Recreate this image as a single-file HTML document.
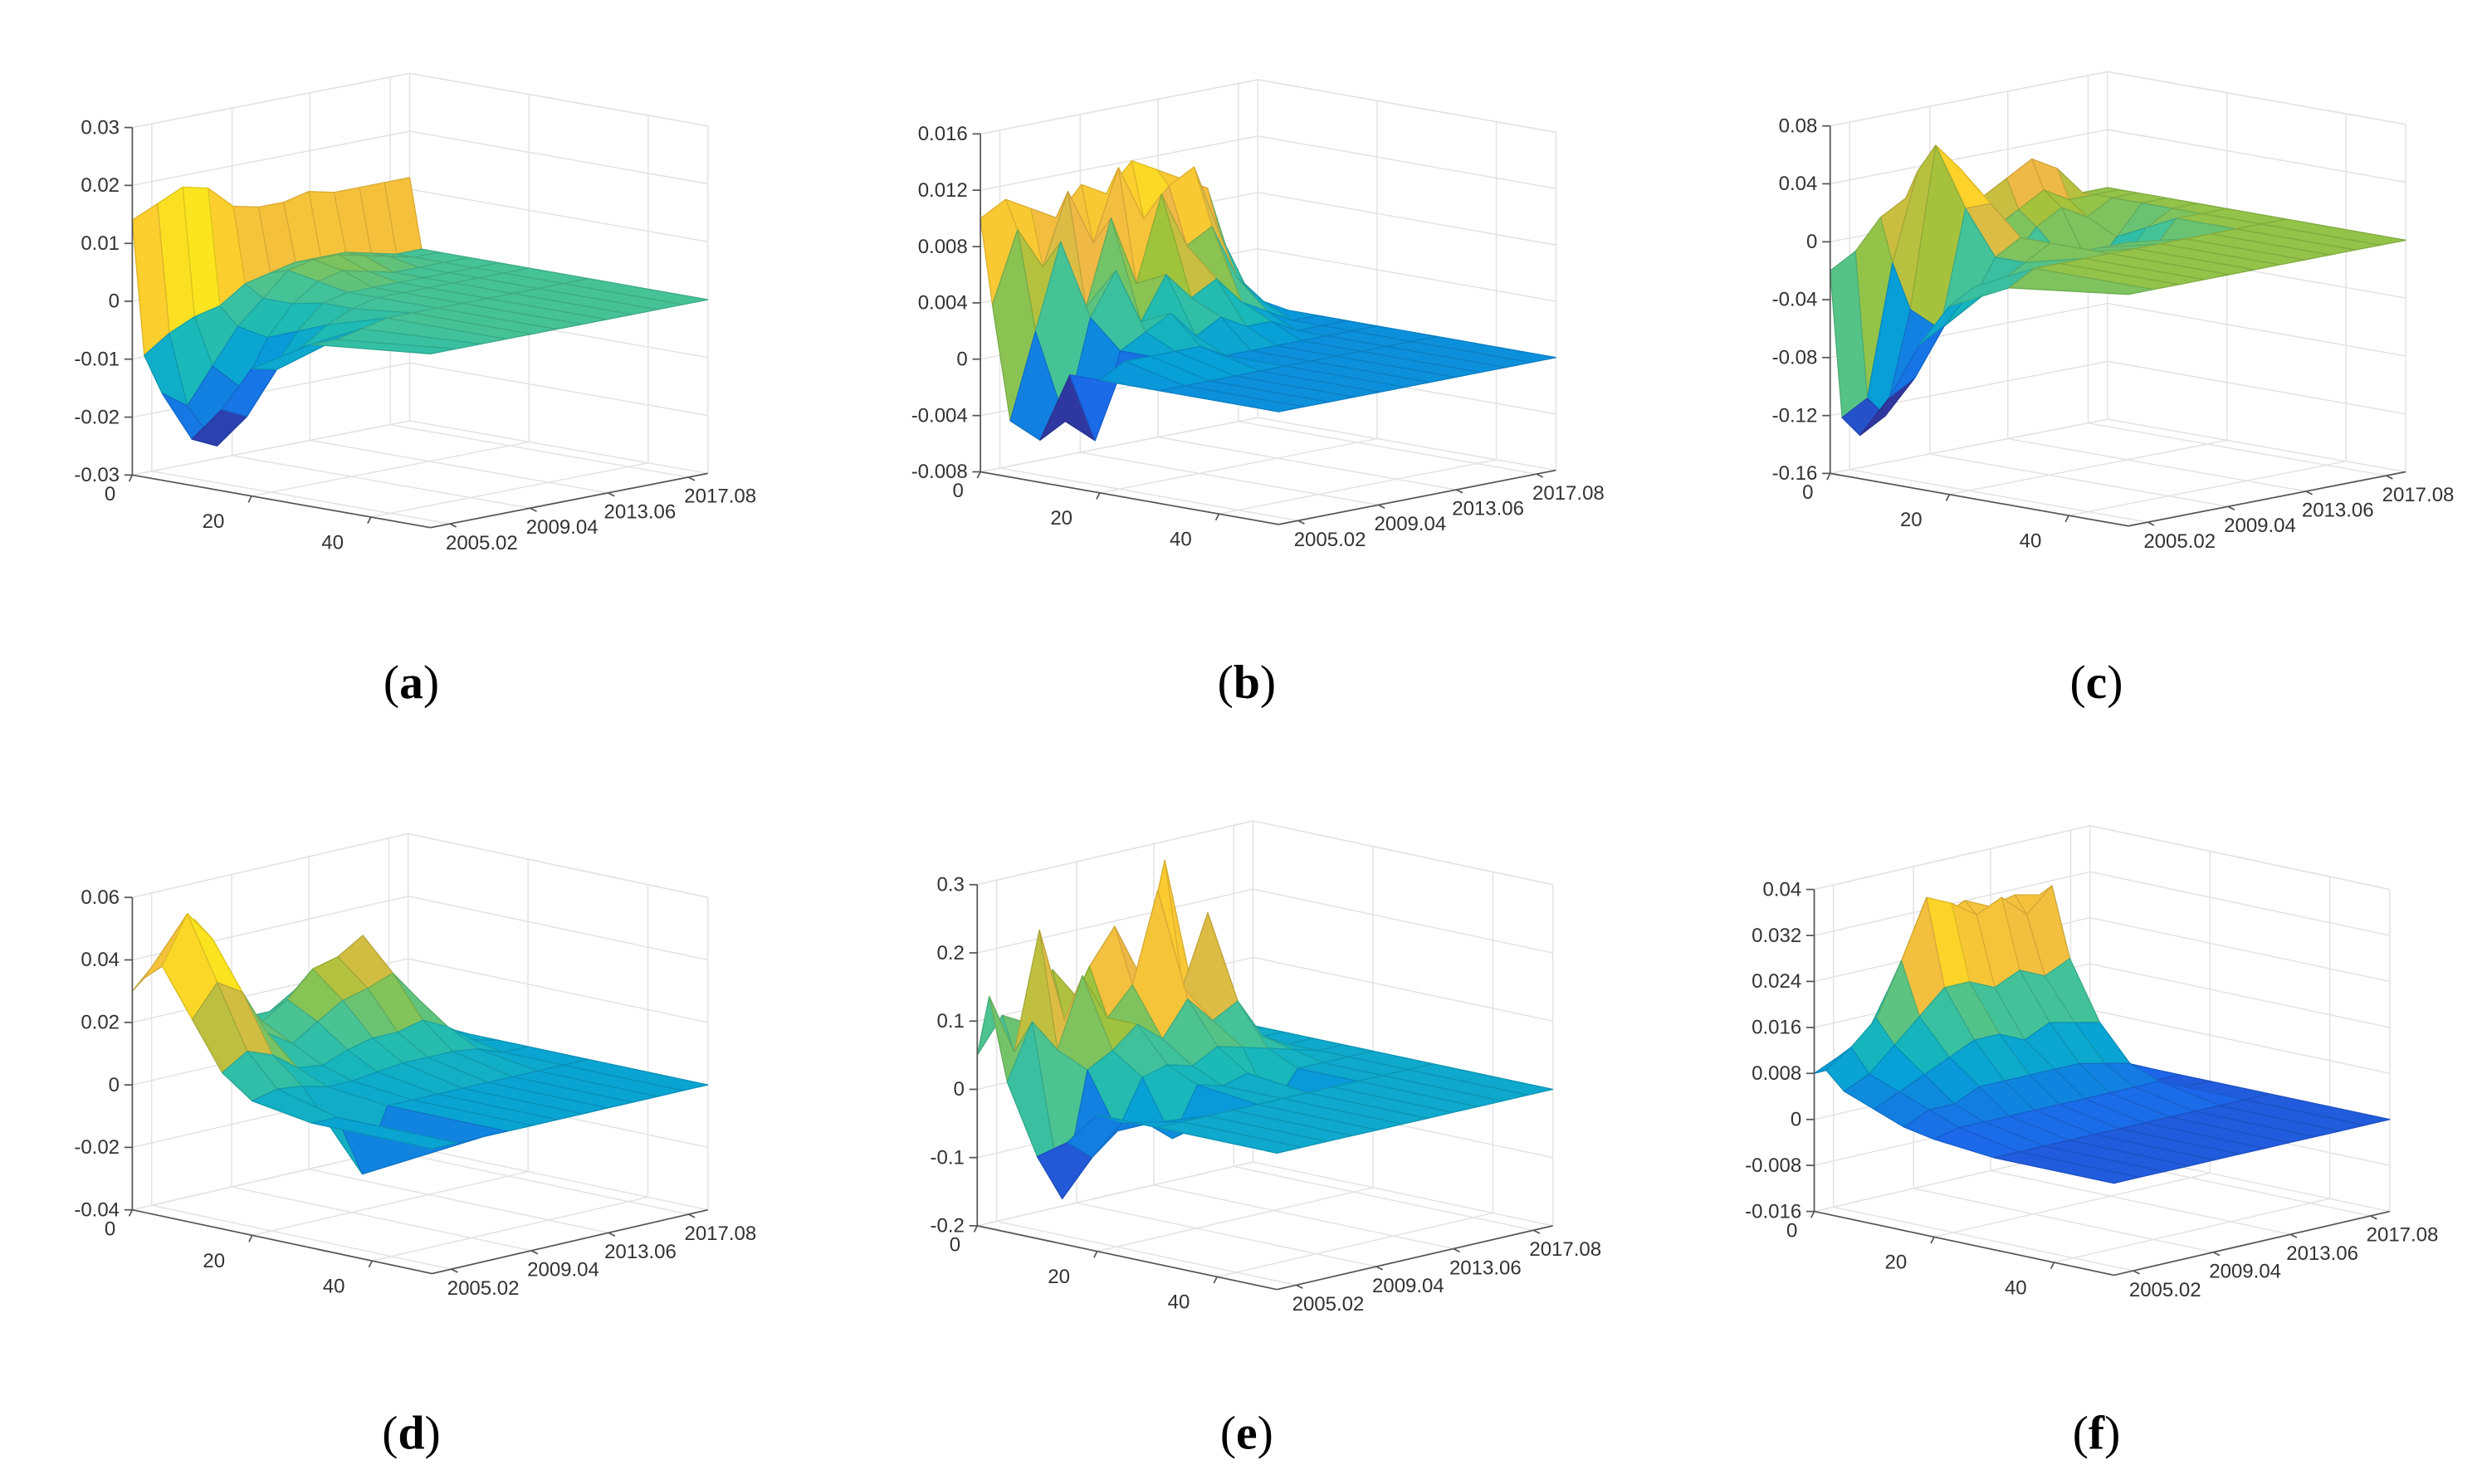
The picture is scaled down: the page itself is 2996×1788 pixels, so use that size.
<!DOCTYPE html>
<html><head><meta charset="utf-8"><style>
html,body{margin:0;padding:0;background:#fff;}
svg{display:block;}
text{font-family:"Liberation Sans",sans-serif;}
</style></head><body>
<svg id="fig" width="2996" height="1788" viewBox="0 0 1560 931" xmlns="http://www.w3.org/2000/svg"></svg>
<script>
// ---- data (lags x date columns) ----
const lags = [0, 2, 5, 10, 15, 20, 30, 50];
const dateLabels = ["2005.02", "2009.04", "2013.06", "2017.08"];
const lagTickLabels = ["0", "20", "40"];
const zA = [
 [0.014,0.016,0.018,0.017,0.013,0.012,0.012,0.013,0.012,0.012,0.012,0.012],
 [-0.009,-0.006,-0.004,-0.003,0.0,0.001,0.002,0.002,0.002,0.001,0,0],
 [-0.015,-0.018,-0.012,-0.006,-0.002,0.002,0.003,0.003,0.002,0.001,0,0],
 [-0.022,-0.024,-0.015,-0.007,-0.002,0.001,0.002,0.001,0,0,0,0],
 [-0.016,-0.018,-0.011,-0.005,-0.001,0,0,0,0,0,0,0],
 [-0.008,-0.009,-0.006,-0.003,-0.001,0,0,0,0,0,0,0],
 [-0.002,-0.002,-0.001,0,0,0,0,0,0,0,0,0],
 [0,0,0,0,0,0,0,0,0,0,0,0]];
const zB = [
 [0.010,0.011,0.010,0.009,0.011,0.010,0.012,0.011,0.010,0.009,0.003,0],
 [0.004,0.009,0.006,0.011,0.007,0.012,0.008,0.010,0.011,0.006,0.002,0],
 [-0.004,0.002,0.008,0.003,0.009,0.004,0.010,0.006,0.007,0.003,0.001,0],
 [-0.005,-0.004,0.003,0.006,0.002,0.005,0.003,0.004,0.002,0.001,0,0],
 [0,-0.005,0.001,0.002,0.003,0.001,0.002,0.001,0.001,0,0,0],
 [0,0.001,0.001,0.001,0.001,0,0,0,0,0,0,0],
 [0,0,0,0,0,0,0,0,0,0,0,0],
 [0,0,0,0,0,0,0,0,0,0,0,0]];
const zC = [
 [-0.02,-0.01,0.01,0.02,0.01,0.01,0.01,0.02,0.03,0.02,0,0],
 [-0.12,-0.11,-0.02,0.04,0.03,0.0,-0.01,0,0.01,0,0,0],
 [-0.13,-0.12,-0.05,0.06,0.04,-0.02,-0.03,-0.01,0,-0.01,0,0],
 [-0.10,-0.09,-0.06,0.02,0.02,-0.04,-0.02,-0.03,-0.04,-0.02,0,0],
 [-0.06,-0.05,-0.04,-0.01,0,-0.03,-0.02,-0.02,-0.03,-0.01,0,0],
 [-0.03,-0.02,-0.02,-0.01,0,-0.01,-0.01,-0.01,-0.02,0,0,0],
 [-0.01,0,0,0,0,0,0,0,0,0,0,0],
 [0,0,0,0,0,0,0,0,0,0,0,0]];
const zD = [
 [0.030,0.038,0.040,0.030,0.015,0.010,0.012,0.014,0.012,0.010,0.003,0],
 [0.035,0.045,0.050,0.030,0.015,0.015,0.020,0.022,0.025,0.015,0.004,0],
 [0.040,0.055,0.045,0.025,0.015,0.020,0.028,0.030,0.035,0.020,0.005,0],
 [0.025,0.035,0.030,0.015,0.010,0.015,0.020,0.022,0.025,0.015,0.004,0],
 [0.010,0.015,0.012,0.006,0.005,0.008,0.010,0.010,0.012,0.008,0.002,0],
 [0.003,0.005,0.004,0.002,0.002,0.003,0.004,0.004,0.004,0.003,0,0],
 [0,0,-0.02,0,0,0,0,0,0,0,0,0],
 [0,0,0,0,0,0,0,0,0,0,0,0]];
const zE = [
 [0.05,0.10,0.08,0.15,0.10,0.12,0.10,0.15,0.12,0.08,0.02,0],
 [0.14,0.05,0.22,0.08,0.15,0.20,0.12,0.28,0.10,0.05,0.01,0],
 [0.02,0.10,0.05,0.15,0.08,0.12,0.25,0.10,0.20,0.04,0,0],
 [-0.08,-0.15,0.03,0.05,0.08,0.05,0.10,0.06,0.08,0.02,0,0],
 [-0.05,-0.08,-0.05,0.02,0.03,0.02,0.04,0.03,0.02,0.01,0,0],
 [0,-0.02,-0.03,-0.06,0.01,0,0.01,-0.05,0,0,0,0],
 [0,0,0,0,0,0,0,0,0,0,0,0],
 [0,0,0,0,0,0,0,0,0,0,0,0]];
const zF = [
 [0.008,0.010,0.012,0.020,0.028,0.030,0.032,0.030,0.031,0.030,0.005,0],
 [0.009,0.012,0.016,0.025,0.035,0.033,0.030,0.032,0.028,0.032,0.005,0],
 [0.006,0.008,0.012,0.016,0.020,0.020,0.018,0.020,0.018,0.020,0.004,0],
 [0.004,0.006,0.008,0.010,0.012,0.012,0.010,0.012,0.011,0.010,0.002,0],
 [0.002,0.004,0.004,0.006,0.006,0.006,0.006,0.006,0.005,0.004,0,0],
 [0.001,0.002,0.002,0.002,0.002,0.002,0.002,0.002,0.002,0.002,0,0],
 [0,0,0,0,0,0,0,0,0,0,0,0],
 [0,0,0,0,0,0,0,0,0,0,0,0]];
const zTicksA = [-0.03,-0.02,-0.01,0,0.01,0.02,0.03];
const zTicksB = [-0.008,-0.004,0,0.004,0.008,0.012,0.016];
const zTicksC = [-0.16,-0.12,-0.08,-0.04,0,0.04,0.08];
const zTicksD = [-0.04,-0.02,0,0.02,0.04,0.06];
const zTicksE = [-0.2,-0.1,0,0.1,0.2,0.3];
const zTicksF = [-0.016,-0.008,0,0.008,0.016,0.024,0.032,0.04];
const climA = [-0.025,0.02], climB = [-0.005,0.013], climC = [-0.13,0.07];
const climD = [-0.03,0.055], climE = [-0.15,0.25], climF = [-0.004,0.038];

// ---- layout (positions, not data) ----
const panels = [
 {id:'a', z:zA, ticks:zTicksA, clim:climA, ox:83,  y0:298, yt:80,  L:[187,33], D:[174,-34], cap:[258,438]},
 {id:'b', z:zB, ticks:zTicksB, clim:climB, ox:615, y0:296, yt:84,  L:[187,33], D:[174,-34], cap:[782,438]},
 {id:'c', z:zC, ticks:zTicksC, clim:climC, ox:1148,y0:297, yt:79,  L:[187,33], D:[174,-34], cap:[1315,438]},
 {id:'d', z:zD, ticks:zTicksD, clim:climD, ox:83,  y0:759, yt:563, L:[188,40], D:[173,-40], cap:[258,909]},
 {id:'e', z:zE, ticks:zTicksE, clim:climE, ox:613, y0:769, yt:555, L:[188,40], D:[173,-40], cap:[782,909]},
 {id:'f', z:zF, ticks:zTicksF, clim:climF, ox:1138,y0:760, yt:558, L:[188,40], D:[173,-40], cap:[1315,909]}
];
const lagTickPos = [0,20,40];
const dateTickFrac = [0.07,0.36,0.64,0.93];
const LAGMAX = 50;

const parulaStops = [[53,42,135],[30,100,235],[18,128,225],[7,160,215],[25,185,185],[70,195,150],[160,195,60],[240,185,70],[252,206,46],[249,251,14]];
function parula(t){
  t=Math.max(0,Math.min(1,t));const s=t*(parulaStops.length-1);const i=Math.min(Math.floor(s),parulaStops.length-2);const f=s-i;
  const a=parulaStops[i],b=parulaStops[i+1];
  return [0,1,2].map(k=>Math.round(a[k]+(b[k]-a[k])*f));
}
const NS='http://www.w3.org/2000/svg';
const svg=document.getElementById('fig');
function mk(tag,attrs,parent){const e=document.createElementNS(NS,tag);for(const k in attrs)e.setAttribute(k,attrs[k]);(parent||svg).appendChild(e);return e;}

panels.forEach(p=>{
  const zmin=p.ticks[0], zmax=p.ticks[p.ticks.length-1], H=p.y0-p.yt;
  const P=(lag,d,z)=>[p.ox+lag/LAGMAX*p.L[0]+d*p.D[0], p.y0+lag/LAGMAX*p.L[1]+d*p.D[1]-(z-zmin)/(zmax-zmin)*H];
  const g=mk('g',{});
  
  
  const grid=mk('g',{stroke:'#e3e3e3','stroke-width':0.8,fill:'none'},g);
  
  
  const line=(a,b,par,st)=>mk('line',Object.assign({x1:a[0].toFixed(1),y1:a[1].toFixed(1),x2:b[0].toFixed(1),y2:b[1].toFixed(1)},st||{}),par);
  p.ticks.forEach(t=>{line(P(0,0,t),P(0,1,t),grid);line(P(0,1,t),P(LAGMAX,1,t),grid);});
  dateTickFrac.forEach(d=>{line(P(0,d,zmin),P(0,d,zmax),grid);line(P(0,d,zmin),P(LAGMAX,d,zmin),grid);});
  lagTickPos.concat([LAGMAX]).forEach(l=>{line(P(l,1,zmin),P(l,1,zmax),grid);line(P(l,0,zmin),P(l,1,zmin),grid);});
  line(P(0,0,zmax),P(0,1,zmax),grid);line(P(0,1,zmax),P(LAGMAX,1,zmax),grid);
  // surface
  const surf=mk('g',{'stroke-width':0.7,'stroke-linejoin':'round'},g);
  
  
  const nd=p.z[0].length, cells=[];
  for(let i=0;i<lags.length-1;i++)for(let j=0;j<nd-1;j++){
    const d0=j/(nd-1), d1=(j+1)/(nd-1);
    const zs=[p.z[i][j],p.z[i][j+1],p.z[i+1][j+1],p.z[i+1][j]];
    cells.push({key:(lags[i]+lags[i+1])/(2*LAGMAX)-(d0+d1)/2,
      pts:[P(lags[i],d0,zs[0]),P(lags[i],d1,zs[1]),P(lags[i+1],d1,zs[2]),P(lags[i+1],d0,zs[3])],
      zc:(zs[0]+zs[1])/2});
  }
  cells.sort((a,b)=>a.key-b.key);
  cells.forEach(c=>{
    const col=parula((c.zc-p.clim[0])/(p.clim[1]-p.clim[0]));
    const dk=col.map(v=>Math.round(v*0.88));
    const poly=mk('polygon',{points:c.pts.map(q=>q[0].toFixed(1)+','+q[1].toFixed(1)).join(' '),
      fill:'rgb('+col.join(',')+')',stroke:'rgb('+dk.join(',')+')'},surf);
    
    
  });
  // axes
  const ax=mk('g',{stroke:'#555','stroke-width':0.9},g);
  
  
  line(P(0,0,zmin),P(0,0,zmax),ax);line(P(0,0,zmin),P(LAGMAX,0,zmin),ax);line(P(LAGMAX,0,zmin),P(LAGMAX,1,zmin),ax);
  const lab=mk('g',{fill:'#333','font-size':12.5},g);
  
  
  p.ticks.forEach(t=>{const q=P(0,0,t);line([q[0]-5,q[1]],q,ax);
    const tx=mk('text',{x:(q[0]-8).toFixed(1),y:(q[1]+4).toFixed(1),'text-anchor':'end'},lab);tx.textContent=String(t);
    
    });
  lagTickPos.forEach((l,k)=>{const q=P(l,0,zmin);line(q,[q[0]-2,q[1]+4],ax);
    const tx=mk('text',{x:(q[0]-(k===0?14:24)).toFixed(1),y:(q[1]+(k===0?16:20)).toFixed(1),'text-anchor':'middle'},lab);tx.textContent=lagTickLabels[k];
    
    });
  dateTickFrac.forEach((d,k)=>{const q=P(LAGMAX,d,zmin);line(q,[q[0]+4,q[1]+2],ax);
    const tx=mk('text',{x:(q[0]+20).toFixed(1),y:(q[1]+16).toFixed(1),'text-anchor':'middle'},lab);tx.textContent=dateLabels[k];
    
    });
  const cap=mk('text',{x:p.cap[0],y:p.cap[1],'text-anchor':'middle','font-size':30,fill:'#000',style:'font-family:"Liberation Serif",serif'},g);
  
  
  cap.innerHTML='(<tspan font-weight="bold">'+p.id+'</tspan>)';
});
</script>
</body></html>
